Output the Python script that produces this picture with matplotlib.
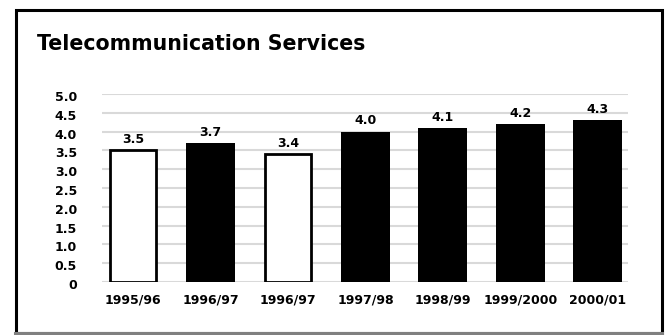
import matplotlib
matplotlib.use("Agg")
import matplotlib.pyplot as plt
import matplotlib.transforms as mtransforms
from matplotlib.patches import Rectangle
from matplotlib.lines import Line2D

# telecom services index by financial year
years = ["1995/96", "1996/97", "1996/97", "1997/98", "1998/99", "1999/2000", "2000/01"]
values = [3.5, 3.7, 3.4, 4.0, 4.1, 4.2, 4.3]
hollow = [True, False, True, False, False, False, False]
yticks = [0, 0.5, 1.0, 1.5, 2.0, 2.5, 3.0, 3.5, 4.0, 4.5, 5.0]
ytick_labels = ["0", "0.5", "1.0", "1.5", "2.0", "2.5", "3.0", "3.5", "4.0", "4.5", "5.0"]

plt.rcParams["font.family"] = ["DejaVu Sans"]
plt.rcParams["font.weight"] = "bold"

fig = plt.figure(figsize=(6.65, 3.35), dpi=100)
W, H = 665, 335

# outer frame
fig.patches.append(Rectangle((15.5 / W, 1 - 333 / H), 646 / W, 323 / H,
                             transform=fig.transFigure, fill=False,
                             edgecolor="black", linewidth=2.2))
fig.add_artist(Line2D([15 / W, 662 / W], [1 - 333 / H] * 2, transform=fig.transFigure,
                      color="#808080", linewidth=2.2))

fig.text(37 / W, 1 - 44 / H, "Telecommunication Services", fontsize=14.8,
         fontweight="bold", ha="left", va="center")

ax = fig.add_axes([102 / W, (H - 282) / H, 526 / W, 188 / H])
x = list(range(len(years)))
for i, v in enumerate(values):
    if hollow[i]:
        ax.bar(i, v, width=0.6, facecolor="white", edgecolor="black", linewidth=2, zorder=3)
    else:
        ax.bar(i, v, width=0.63, facecolor="black", edgecolor="black", linewidth=0, zorder=3)
    ax.annotate(f"{v:.1f}", (i, v), xytext=(0, 3), textcoords="offset points",
                ha="center", va="bottom", fontsize=9, fontweight="bold")

ax.set_xlim(-0.4, 6.39)
ax.set_ylim(0, 5.0)
ax.set_yticks(yticks)
ax.set_yticklabels(ytick_labels)
ax.set_xticks(x)
ax.set_xticklabels(years)
ax.tick_params(axis="y", length=0, pad=18, labelsize=9)
ax.tick_params(axis="x", length=0, pad=8, labelsize=9)
# y labels sit a touch below their gridlines
shift = mtransforms.ScaledTranslation(0, -1.5 / 72, fig.dpi_scale_trans)
for lbl in ax.get_yticklabels():
    lbl.set_transform(lbl.get_transform() + shift)
for lbl in ax.get_xticklabels() + ax.get_yticklabels():
    lbl.set_fontweight("bold")
ax.grid(axis="y", color="#d9d9d9", linewidth=1.5, zorder=0)
ax.set_axisbelow(True)
for s in ax.spines.values():
    s.set_visible(False)

fig.savefig("out.png", dpi=100)
